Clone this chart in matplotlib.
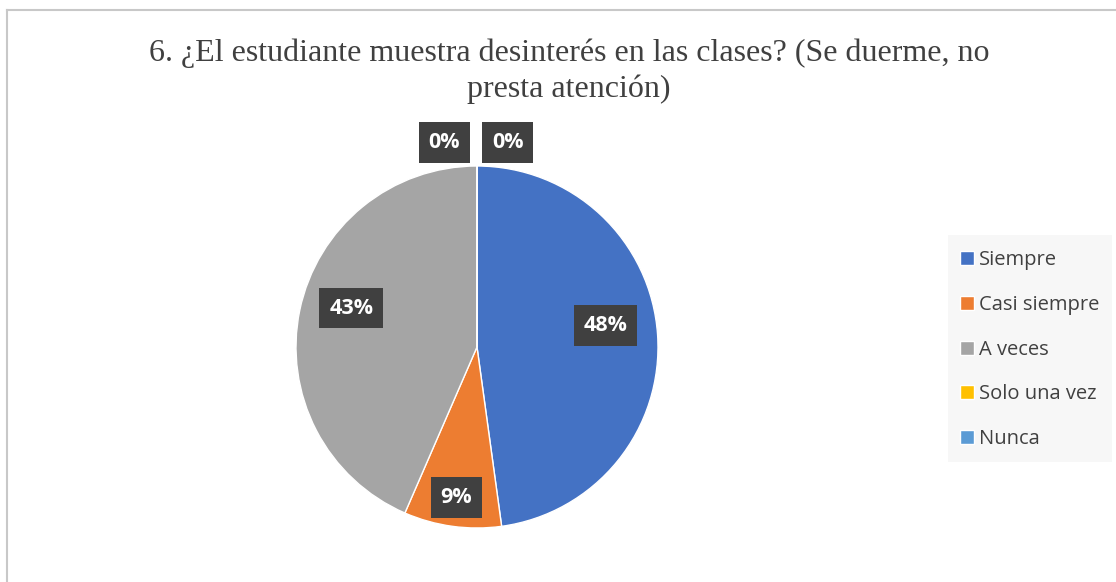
import numpy as np
import matplotlib.pyplot as plt
from matplotlib.patches import Rectangle

# data (counts read as shares: 48% / 9% / 43% / 0% / 0%)
categories = ["Siempre", "Casi siempre", "A veces", "Solo una vez", "Nunca"]
counts = [11, 2, 10, 0, 0]
colors = ["#4472c4", "#ed7d31", "#a5a5a5", "#ffc000", "#5b9bd5"]
title = "6. ¿El estudiante muestra desinterés en las clases? (Se duerme, no\npresta atención)"

W, H = 1116, 582
fig = plt.figure(figsize=(W / 100, H / 100), dpi=100)
fig.patch.set_facecolor("white")

# chart frame (only left/top visible in the crop)
fig.add_artist(plt.Line2D([7 / W, 7 / W], [0, 1 - 10 / H], color="#c8c8c8", lw=1.5))
fig.add_artist(plt.Line2D([7 / W, 1], [1 - 10 / H, 1 - 10 / H], color="#c8c8c8", lw=1.5))

fig.text(569 / W, 1 - 71 / H, title, ha="center", va="center", fontsize=23,
         family="Liberation Serif", color="#404040", linespacing=1.3)

# pie axes: center (477, 347), radius 181 px
cx, cy, r = 477, 347, 181
ax = fig.add_axes([(cx - r) / W, (H - cy - r) / H, 2 * r / W, 2 * r / H])

wedges, _ = ax.pie(counts, colors=colors, startangle=90, counterclock=False,
                   radius=1, wedgeprops=dict(linewidth=1, edgecolor="white"))
ax.set_xlim(-1, 1)
ax.set_ylim(-1, 1)
ax.set_aspect("equal")
ax.axis("off")

total = sum(counts)
box = dict(boxstyle="square,pad=0.45", fc="#404040", ec="none")
zero_x = [-0.18, 0.17]
zi = 0
for w, c in zip(wedges, counts):
    pct = f"{round(100 * c / total)}%"
    if c == 0:
        x, y = zero_x[zi], 1.13
        zi += 1
    else:
        mid = np.deg2rad((w.theta1 + w.theta2) / 2)
        if c / total < 0.15:
            x, y = 0.84 * np.cos(mid), 0.84 * np.sin(mid)
        else:
            x, y = 0.71 * np.cos(mid), 0.71 * np.sin(mid) + 0.07
    ax.text(x, y, pct, ha="center", va="center", fontsize=15.5, fontweight="bold",
            color="white", family="Open Sans", bbox=box, clip_on=False)

# legend with light background
fig.patches.append(Rectangle((948 / W, 1 - 462 / H), 164 / W, 227 / H,
                             transform=fig.transFigure, fc="#f7f7f7", ec="none", zorder=0))
leg = fig.legend(wedges, categories, loc="upper left", bbox_to_anchor=(950 / W, 1 - 240 / H),
                 frameon=False, prop={"family": "Open Sans", "size": 14.5},
                 handlelength=0.7, handleheight=0.7, handletextpad=0.25,
                 labelspacing=1.23, borderpad=0)
for t in leg.get_texts():
    t.set_color("#404040")

fig.savefig("out.png", dpi=100)
